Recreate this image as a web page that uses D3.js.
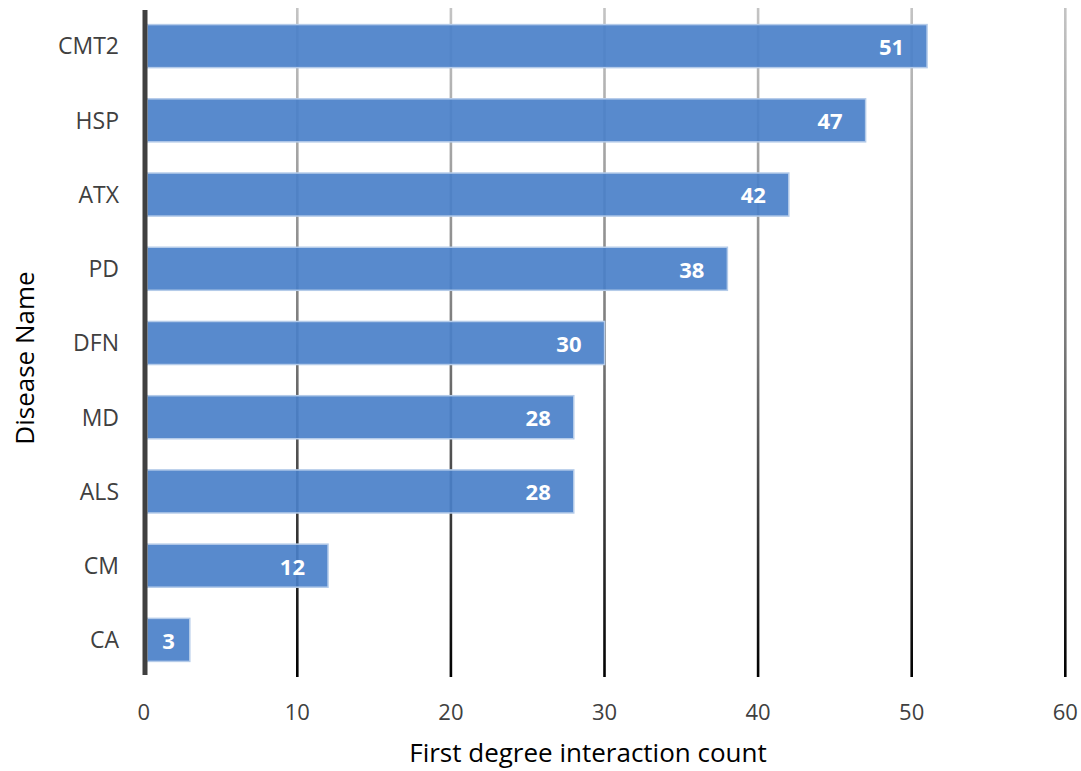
<!DOCTYPE html>
<html><head><meta charset="utf-8">
<script src="https://cdn.jsdelivr.net/npm/d3@7"></script>
<style>
html,body{margin:0;padding:0;background:#fff;}
svg{display:block;font-family:"Open Sans",sans-serif;}
</style></head>
<body>
<svg id="chart" width="1081" height="771"></svg>
<script>
const categories = ["CMT2","HSP","ATX","PD","DFN","MD","ALS","CM","CA"];
const values = [51,47,42,38,30,28,28,12,3];
const xTicks = [0,10,20,30,40,50,60];
const xTitle = "First degree interaction count";
const yTitle = "Disease Name";

const svg = d3.select("#chart");
const x = d3.scaleLinear().domain([0,60]).range([143.7,1065.3]);
const y = d3.scaleBand().domain(categories).range([9,677]).paddingInner(0.42).paddingOuter(0.21);

const defs = svg.append("defs");
const grad = defs.append("linearGradient").attr("id","gridGrad")
  .attr("gradientUnits","userSpaceOnUse").attr("x1",0).attr("y1",8).attr("x2",0).attr("y2",677);
grad.append("stop").attr("offset","0%").attr("stop-color","#c4c4c4");
grad.append("stop").attr("offset","50%").attr("stop-color","#7a7a7a");
grad.append("stop").attr("offset","100%").attr("stop-color","#000");

// gridlines
svg.append("g").selectAll("rect").data(xTicks.filter(d=>d>0)).join("rect")
  .attr("x",d=>x(d)-1.3).attr("width",2.6)
  .attr("y",8).attr("height",669)
  .attr("fill","url(#gridGrad)");

const barX0 = x(0)+3.5;
// bars
svg.append("g").selectAll("rect").data(values).join("rect")
  .attr("x",barX0)
  .attr("y",(d,i)=>y(categories[i]))
  .attr("width",d=>x(d)-barX0)
  .attr("height",y.bandwidth())
  .attr("fill","#4a80c9").attr("fill-opacity",0.92)
  .attr("stroke","#b4cbe9").attr("stroke-width",1.5);

// axis line
svg.append("rect").attr("x",x(0)-1.2).attr("width",5).attr("y",10).attr("height",665).attr("fill","#404040");

// value labels
svg.append("g").selectAll("text").data(values).join("text")
  .attr("y",(d,i)=>y(categories[i])+y.bandwidth()/2+1)
  .attr("dy","0.36em")
  .attr("text-anchor","end")
  .attr("fill","#fff").attr("font-weight","bold").attr("font-size",22)
  .text(d=>d)
  .each(function(d){
    const w = this.getComputedTextLength();
    const barW = x(d)-barX0;
    const sel = d3.select(this);
    if (barW < w + 46) {
      sel.attr("text-anchor","middle").attr("x",barX0+barW/2);
    } else {
      sel.attr("x",x(d)-23);
    }
  });

// category labels
svg.append("g").selectAll("text").data(categories).join("text")
  .attr("x",119)
  .attr("y",d=>y(d)+y.bandwidth()/2)
  .attr("dy","0.36em")
  .attr("text-anchor","end")
  .attr("fill","#404040").attr("font-size",23)
  .text(d=>d);

// x tick labels
svg.append("g").selectAll("text").data(xTicks).join("text")
  .attr("x",d=>x(d))
  .attr("y",720)
  .attr("text-anchor","middle")
  .attr("fill","#404040").attr("font-size",22)
  .text(d=>d);

svg.append("text").attr("x",588).attr("y",762).attr("text-anchor","middle")
  .attr("fill","#000").attr("font-size",26).text(xTitle);

svg.append("text").attr("transform","translate(34,358) rotate(-90)").attr("text-anchor","middle")
  .attr("fill","#000").attr("font-size",26).text(yTitle);
</script>
</body></html>
